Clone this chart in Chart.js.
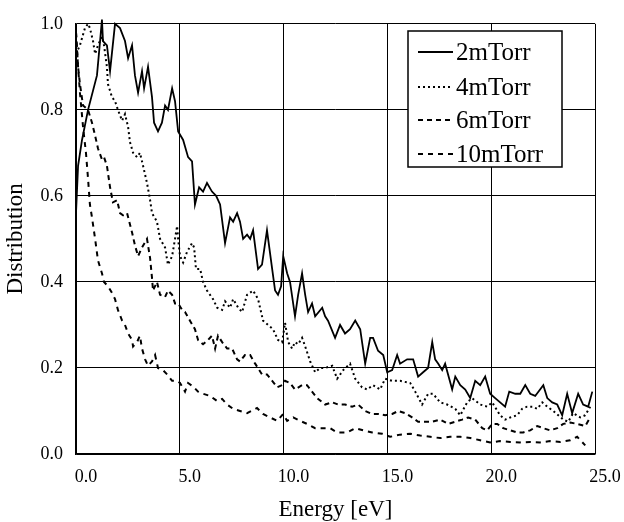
<!DOCTYPE html>
<html>
<head>
<meta charset="utf-8">
<script src="https://cdn.jsdelivr.net/npm/chart.js@4.4.1/dist/chart.umd.min.js"></script>
<style>
html,body{margin:0;padding:0;background:#fff;}
canvas{display:block;}
</style>
</head>
<body>
<canvas id="c" width="624" height="522"></canvas>
<script>
// ---- data ----
const seriesLabels = ["2mTorr", "4mTorr", "6mTorr", "10mTorr"];
const xTicks = [0, 5, 10, 15, 20, 25];
const yTicks = [0, 0.2, 0.4, 0.6, 0.8, 1.0];

const energy2 = [0.00,0.10,0.29,0.58,1.01,1.16,1.25,1.30,1.49,1.64,1.88,2.12,2.36,2.51,2.70,2.84,2.99,3.18,3.28,3.47,3.66,3.76,3.95,4.14,4.29,4.43,4.63,4.77,4.92,5.16,5.40,5.59,5.73,5.93,6.12,6.31,6.55,6.75,6.94,7.18,7.42,7.57,7.76,7.90,8.05,8.24,8.39,8.53,8.77,8.96,9.20,9.45,9.59,9.73,9.88,9.98,10.17,10.31,10.55,10.70,10.89,11.04,11.18,11.37,11.52,11.86,12.00,12.14,12.48,12.72,12.96,13.20,13.45,13.69,13.93,14.17,14.31,14.55,14.80,14.99,15.23,15.47,15.61,15.95,16.24,16.48,16.72,16.96,17.16,17.30,17.45,17.64,17.78,18.12,18.27,18.51,18.75,18.99,19.23,19.47,19.71,19.95,20.19,20.43,20.67,20.87,21.16,21.40,21.64,21.88,22.12,22.51,22.70,22.94,23.18,23.42,23.66,23.90,24.19,24.43,24.67,24.87];
const dist2 = [0.56,0.67,0.73,0.80,0.88,0.96,1.01,0.96,0.95,0.89,1.00,0.99,0.96,0.92,0.95,0.88,0.84,0.89,0.85,0.90,0.83,0.77,0.75,0.77,0.81,0.80,0.85,0.82,0.75,0.73,0.69,0.68,0.58,0.62,0.61,0.63,0.61,0.60,0.58,0.49,0.55,0.54,0.56,0.54,0.50,0.51,0.50,0.52,0.43,0.44,0.52,0.43,0.38,0.37,0.39,0.46,0.42,0.40,0.32,0.37,0.42,0.37,0.33,0.35,0.32,0.34,0.32,0.31,0.27,0.30,0.28,0.29,0.31,0.29,0.21,0.27,0.27,0.24,0.23,0.19,0.195,0.23,0.21,0.22,0.22,0.18,0.19,0.20,0.26,0.22,0.21,0.195,0.21,0.15,0.18,0.16,0.15,0.13,0.17,0.16,0.18,0.14,0.13,0.12,0.11,0.145,0.14,0.14,0.16,0.14,0.135,0.16,0.13,0.12,0.115,0.09,0.14,0.095,0.14,0.115,0.11,0.145];

const energy4 = [0.00,0.19,0.43,0.58,0.67,0.82,0.92,1.06,1.25,1.35,1.49,1.54,1.73,1.88,2.02,2.22,2.36,2.51,2.60,2.75,2.94,3.08,3.23,3.42,3.57,3.66,3.90,4.05,4.29,4.43,4.63,4.77,4.87,4.92,5.01,5.16,5.35,5.59,5.69,5.78,5.98,6.12,6.31,6.60,6.80,7.04,7.18,7.42,7.57,7.81,8.00,8.24,8.53,8.77,9.01,9.25,9.49,9.73,9.93,10.07,10.22,10.41,10.55,10.70,10.89,11.04,11.28,11.52,11.76,12.00,12.34,12.58,12.87,13.20,13.45,13.78,14.02,14.31,14.65,14.89,15.23,15.61,16.10,16.34,16.67,16.96,17.20,17.54,17.88,18.27,18.51,18.84,19.08,19.47,19.81,20.05,20.43,20.67,20.92,21.25,21.49,21.73,21.98,22.22,22.46,22.70,22.99,23.23,23.47,23.71,23.95,24.29,24.53,24.77];
const dist4 = [0.93,0.95,0.99,1.00,0.99,0.96,0.93,0.95,0.97,0.95,0.90,0.86,0.83,0.82,0.80,0.775,0.79,0.76,0.725,0.70,0.69,0.70,0.67,0.63,0.59,0.56,0.54,0.50,0.48,0.44,0.46,0.50,0.53,0.50,0.46,0.445,0.47,0.49,0.48,0.43,0.43,0.40,0.38,0.36,0.34,0.335,0.355,0.34,0.36,0.34,0.33,0.37,0.38,0.36,0.31,0.30,0.29,0.265,0.26,0.305,0.26,0.245,0.26,0.255,0.27,0.25,0.215,0.19,0.20,0.20,0.205,0.175,0.195,0.21,0.175,0.155,0.15,0.16,0.15,0.175,0.17,0.17,0.165,0.145,0.115,0.14,0.14,0.12,0.115,0.105,0.09,0.12,0.13,0.115,0.11,0.12,0.09,0.08,0.085,0.09,0.105,0.11,0.11,0.105,0.12,0.11,0.10,0.09,0.08,0.075,0.095,0.085,0.09,0.11];

const energy6 = [0.00,0.10,0.19,0.34,0.58,0.77,0.92,1.06,1.25,1.35,1.49,1.64,1.78,1.98,2.12,2.27,2.46,2.70,2.84,2.99,3.18,3.42,3.57,3.66,3.71,3.90,4.05,4.29,4.43,4.63,4.77,4.92,5.11,5.25,5.49,5.73,5.88,6.12,6.36,6.55,6.70,6.84,7.04,7.28,7.52,7.76,7.90,8.14,8.39,8.63,8.96,9.20,9.45,9.69,9.93,10.07,10.31,10.55,10.89,11.13,11.37,11.61,12.00,12.34,12.63,12.96,13.30,13.59,13.93,14.27,14.55,14.89,15.23,15.52,15.86,16.19,16.48,16.82,17.16,17.54,17.93,18.27,18.60,18.89,19.23,19.57,19.81,20.05,20.29,20.58,20.92,21.25,21.54,21.88,22.22,22.51,22.84,23.18,23.47,23.81,24.14,24.53,24.77];
const dist6 = [0.98,0.90,0.86,0.81,0.80,0.77,0.74,0.71,0.685,0.69,0.67,0.62,0.585,0.59,0.56,0.555,0.56,0.515,0.485,0.46,0.48,0.50,0.455,0.41,0.38,0.40,0.37,0.365,0.38,0.37,0.35,0.35,0.335,0.33,0.31,0.29,0.265,0.255,0.265,0.275,0.245,0.275,0.26,0.245,0.245,0.22,0.215,0.23,0.23,0.21,0.185,0.185,0.17,0.155,0.16,0.17,0.165,0.15,0.16,0.16,0.145,0.13,0.115,0.12,0.115,0.115,0.11,0.115,0.10,0.093,0.093,0.09,0.093,0.10,0.095,0.085,0.075,0.075,0.075,0.08,0.07,0.075,0.08,0.085,0.08,0.06,0.055,0.07,0.07,0.06,0.055,0.05,0.05,0.055,0.065,0.06,0.055,0.06,0.07,0.073,0.07,0.065,0.085];

const energy10 = [0.00,0.10,0.19,0.34,0.48,0.58,0.67,0.77,0.92,1.06,1.25,1.35,1.54,1.73,1.88,2.02,2.22,2.36,2.51,2.70,2.75,2.94,3.08,3.18,3.33,3.47,3.66,3.81,3.95,4.19,4.39,4.63,4.87,5.01,5.25,5.40,5.64,5.88,6.12,6.46,6.80,7.04,7.28,7.57,7.90,8.24,8.72,9.01,9.35,9.69,9.98,10.17,10.46,10.80,11.13,11.52,11.76,12.24,12.58,13.06,13.45,13.83,14.27,14.75,15.13,15.61,16.10,16.58,17.06,17.54,18.02,18.51,18.99,19.47,19.95,20.43,20.92,21.40,21.88,22.36,22.84,23.33,23.81,24.14,24.53];
const dist10 = [0.98,0.90,0.84,0.76,0.70,0.64,0.58,0.55,0.50,0.45,0.42,0.40,0.39,0.375,0.36,0.335,0.31,0.30,0.28,0.265,0.25,0.26,0.275,0.245,0.22,0.205,0.215,0.23,0.20,0.195,0.185,0.17,0.17,0.165,0.145,0.165,0.157,0.145,0.14,0.135,0.123,0.128,0.115,0.105,0.10,0.095,0.107,0.093,0.085,0.077,0.093,0.077,0.085,0.077,0.07,0.06,0.06,0.06,0.05,0.05,0.06,0.055,0.05,0.047,0.04,0.045,0.047,0.043,0.04,0.037,0.04,0.04,0.037,0.032,0.027,0.03,0.028,0.027,0.028,0.027,0.03,0.028,0.032,0.04,0.02];

// ---- build datasets ----
function pts(xs, ys) { return xs.map((x, i) => ({ x: x, y: ys[i] })); }
const styles = [
  { borderWidth: 1.8, borderDash: [] },
  { borderWidth: 2, borderDash: [2, 3] },
  { borderWidth: 2, borderDash: [5, 4] },
  { borderWidth: 2, borderDash: [5, 5] }
];
const allX = [energy2, energy4, energy6, energy10];
const allY = [dist2, dist4, dist6, dist10];
const datasets = seriesLabels.map((lab, i) => ({
  label: lab,
  data: pts(allX[i], allY[i]),
  borderColor: '#000',
  backgroundColor: '#000',
  borderWidth: styles[i].borderWidth,
  borderDash: styles[i].borderDash,
  pointRadius: 0,
  tension: 0,
  fill: false,
  clip: { left: 0, top: 6, right: 0, bottom: 0 }
}));

// ---- custom boxed legend inside plot ----
const boxLegend = {
  id: 'boxLegend',
  afterDraw(chart) {
    const ctx = chart.ctx;
    const bx = 408, by = 31, bw = 154, bh = 136;
    ctx.save();
    ctx.fillStyle = '#fff';
    ctx.fillRect(bx, by, bw, bh);
    ctx.strokeStyle = '#000';
    ctx.lineWidth = 1.5;
    ctx.strokeRect(bx, by, bw, bh);
    const rows = [52, 87, 120, 154];
    chart.data.datasets.forEach((ds, i) => {
      const y = rows[i];
      ctx.beginPath();
      ctx.setLineDash(ds.borderDash || []);
      ctx.lineWidth = ds.borderWidth;
      ctx.strokeStyle = '#000';
      ctx.moveTo(418, y);
      ctx.lineTo(453, y);
      ctx.stroke();
      ctx.setLineDash([]);
      ctx.fillStyle = '#000';
      ctx.font = '25px "Liberation Serif", "Times New Roman", serif';
      ctx.textAlign = 'left';
      ctx.textBaseline = 'middle';
      ctx.fillText(ds.label, 456, y + 1);
    });
    ctx.restore();
  }
};

const serif = '"Liberation Serif", "Times New Roman", serif';

new Chart(document.getElementById('c'), {
  type: 'line',
  data: { datasets: datasets },
  options: {
    responsive: false,
    devicePixelRatio: 1,
    animation: false,
    layout: { padding: { left: 0, top: 14, right: 29, bottom: 0 } },
    plugins: { legend: { display: false }, tooltip: { enabled: false } },
    scales: {
      x: {
        type: 'linear',
        min: 0, max: 25,
        afterFit(s) { s.height = 68; },
        afterBuildTicks(s) { s.ticks = xTicks.map(v => ({ value: v })); },
        ticks: {
          callback: v => v.toFixed(1),
          font: { family: serif, size: 18 },
          color: '#000',
          padding: 12,
          labelOffset: 10,
          maxRotation: 0
        },
        grid: { color: '#000', lineWidth: 1, drawTicks: false },
        border: { color: '#000', width: 1.5 },
        title: {
          display: true, text: 'Energy [eV]', color: '#000',
          font: { family: serif, size: 23, lineHeight: 1 },
          padding: { top: 0, bottom: 1 }
        }
      },
      y: {
        type: 'linear',
        min: 0, max: 1,
        afterFit(s) { s.width = 76; },
        afterBuildTicks(s) { s.ticks = yTicks.map(v => ({ value: v })); },
        ticks: {
          callback: v => v.toFixed(1),
          font: { family: serif, size: 18 },
          color: '#000',
          padding: 13
        },
        grid: { color: '#000', lineWidth: 1, drawTicks: false },
        border: { color: '#000', width: 1.5 },
        title: {
          display: true, text: 'Distribution', color: '#000',
          font: { family: serif, size: 23 },
          padding: { top: 2, bottom: 0 }
        }
      }
    }
  },
  plugins: [boxLegend]
});
</script>
</body>
</html>
